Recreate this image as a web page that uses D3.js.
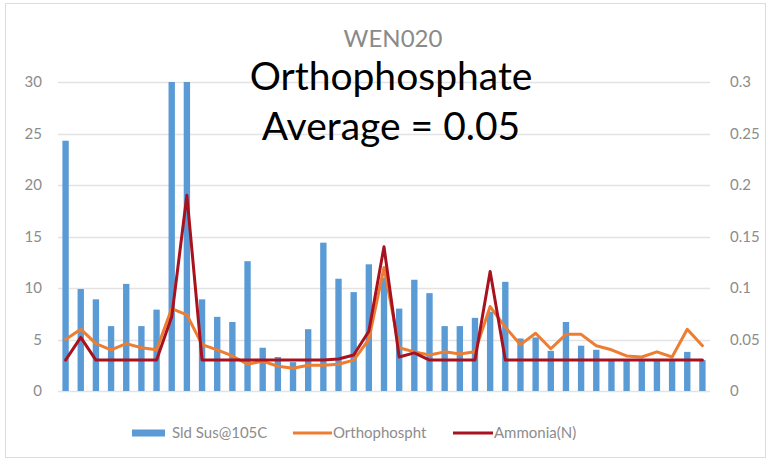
<!DOCTYPE html>
<html>
<head>
<meta charset="utf-8">
<script src="https://cdn.jsdelivr.net/npm/d3@7"></script>
<style>
  html, body { margin: 0; padding: 0; background: #fff; }
  svg { display: block; }
  text { font-family: Lato, "Open Sans", sans-serif; }
</style>
</head>
<body>
<svg id="chart" width="768" height="461"></svg>
<script>
// ---- data ----
const categories = d3.range(1, 44);
const solids = [24.3, 9.9, 8.9, 6.3, 10.4, 6.3, 7.9, 30, 30, 8.9,
                7.2, 6.7, 12.6, 4.2, 3.3, 2.8, 6.0, 14.4, 10.9, 9.6,
                12.3, 11.0, 8.0, 10.8, 9.5, 6.3, 6.3, 7.1, 7.7, 10.6,
                5.1, 5.2, 3.9, 6.7, 4.4, 4.0, 3.0, 3.0, 3.0, 3.0,
                3.0, 3.8, 3.0];
const orthophosphate = [0.050, 0.060, 0.046, 0.040, 0.046, 0.042, 0.040, 0.080, 0.074, 0.045,
                        0.040, 0.034, 0.026, 0.029, 0.024, 0.022, 0.025, 0.025, 0.026, 0.030,
                        0.050, 0.120, 0.042, 0.038, 0.035, 0.038, 0.036, 0.038, 0.082, 0.062,
                        0.045, 0.056, 0.041, 0.055, 0.055, 0.044, 0.040, 0.034, 0.033, 0.038,
                        0.033, 0.060, 0.044];
const ammonia = [0.030, 0.052, 0.030, 0.030, 0.030, 0.030, 0.030, 0.072, 0.190, 0.030,
                 0.030, 0.030, 0.030, 0.030, 0.030, 0.030, 0.030, 0.030, 0.031, 0.035,
                 0.058, 0.140, 0.033, 0.037, 0.030, 0.030, 0.030, 0.030, 0.116, 0.030,
                 0.030, 0.030, 0.030, 0.030, 0.030, 0.030, 0.030, 0.030, 0.030, 0.030,
                 0.030, 0.030, 0.030];
const leftTicks = [0, 5, 10, 15, 20, 25, 30];
const rightTicks = [0, 0.05, 0.1, 0.15, 0.2, 0.25, 0.3];
const seriesNames = ["Sld Sus@105C", "Orthophospht", "Ammonia(N)"];
const chartTitle = "WEN020";
const noteLines = ["Orthophosphate", "Average = 0.05"];

// ---- layout ----
const svg = d3.select("#chart");
const plot = { left: 58, right: 710, top: 82, bottom: 391 };
const colors = { bar: "#5b9bd5", ortho: "#ed7d31", amm: "#a8121f", grid: "#e3e3e3", text: "#8c8c8c" };

// chart frame
svg.append("rect").attr("x", 5.5).attr("y", 3.5).attr("width", 760).attr("height", 454)
  .attr("fill", "#fff").attr("stroke", "#dcdcdc");

const x = d3.scaleBand().domain(categories).range([plot.left, plot.right]).paddingInner(0.58).paddingOuter(0.29);
const yL = d3.scaleLinear().domain([0, 30]).range([plot.bottom, plot.top]);
const yR = d3.scaleLinear().domain([0, 0.3]).range([plot.bottom, plot.top]);

// gridlines
svg.append("g").selectAll("line").data(leftTicks).join("line")
  .attr("x1", plot.left).attr("x2", plot.right)
  .attr("y1", d => Math.round(yL(d)) + 0.5).attr("y2", d => Math.round(yL(d)) + 0.5)
  .attr("stroke", colors.grid).attr("stroke-width", 1.5);

// axes (labels only)
const axL = svg.append("g").attr("transform", `translate(${plot.left - 16},0)`)
  .call(d3.axisLeft(yL).tickValues(leftTicks).tickSize(0).tickPadding(0));
const axR = svg.append("g").attr("transform", `translate(${plot.right + 20},0)`)
  .call(d3.axisRight(yR).tickValues(rightTicks).tickSize(0).tickPadding(0).tickFormat(d3.format("~g")));
[axL, axR].forEach(a => {
  a.select(".domain").remove();
  a.selectAll("text").attr("fill", colors.text).style("font-size", "15px")
    .style("font-family", "Lato, sans-serif");
});

// bars
svg.append("g").selectAll("rect").data(solids).join("rect")
  .attr("x", (d, i) => x(categories[i]))
  .attr("width", x.bandwidth())
  .attr("y", d => yL(Math.min(d, 30)))
  .attr("height", d => yL(0) - yL(Math.min(d, 30)))
  .attr("fill", colors.bar);

// lines
const line = d3.line()
  .x((d, i) => x(categories[i]) + x.bandwidth() / 2)
  .y(d => yR(d));
svg.append("path").datum(orthophosphate).attr("d", line)
  .attr("fill", "none").attr("stroke", colors.ortho).attr("stroke-width", 3)
  .attr("stroke-linejoin", "round").attr("stroke-linecap", "round");
svg.append("path").datum(ammonia).attr("d", line)
  .attr("fill", "none").attr("stroke", colors.amm).attr("stroke-width", 3)
  .attr("stroke-linejoin", "round").attr("stroke-linecap", "round");

// title
svg.append("text").attr("x", 393).attr("y", 47).attr("text-anchor", "middle")
  .attr("fill", "#8a8a8a").style("font-size", "24px").text(chartTitle);

// note text
svg.append("g").selectAll("text").data(noteLines).join("text")
  .attr("x", 391).attr("y", (d, i) => 90 + i * 50)
  .attr("text-anchor", "middle").attr("fill", "#000")
  .style("font-size", "39px").text(d => d);

// legend
const legend = svg.append("g");
const legItems = [
  { name: seriesNames[0], type: "bar", color: colors.bar, x0: 132, w: 33, tx: 172 },
  { name: seriesNames[1], type: "line", color: colors.ortho, x0: 293, w: 39, tx: 333 },
  { name: seriesNames[2], type: "line", color: colors.amm, x0: 453, w: 40, tx: 494 }
];
const ly = 433;
legItems.forEach(it => {
  if (it.type === "bar") {
    legend.append("rect").attr("x", it.x0).attr("y", ly - 3.5).attr("width", it.w).attr("height", 7).attr("fill", it.color);
  } else {
    legend.append("line").attr("x1", it.x0).attr("x2", it.x0 + it.w).attr("y1", ly).attr("y2", ly)
      .attr("stroke", it.color).attr("stroke-width", 3);
  }
  legend.append("text").attr("x", it.tx).attr("y", ly + 5).attr("fill", colors.text)
    .style("font-size", "15px").text(it.name);
});
</script>
</body>
</html>
